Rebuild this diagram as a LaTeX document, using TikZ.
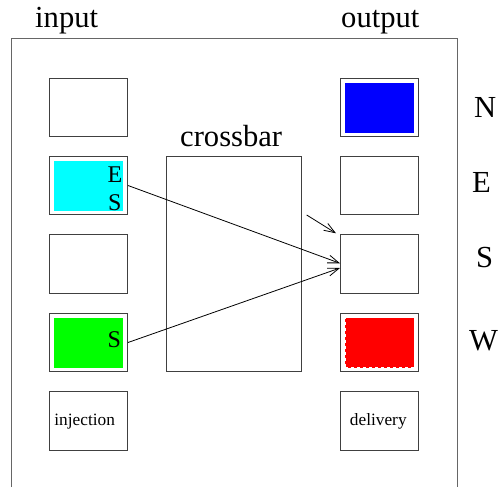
\documentclass[tikz,border=0pt]{standalone}
\usepackage{fontspec}
\setmainfont{Liberation Serif}
\usetikzlibrary{arrows.meta,calc}

\definecolor{bufE}{RGB}{0,255,255}
\definecolor{bufW}{RGB}{0,255,0}
\definecolor{outN}{RGB}{0,0,255}
\definecolor{outW}{RGB}{255,0,0}

\tikzset{
  lbl/.style={font=\fontsize{30.6}{36}\selectfont, inner sep=0},
  req/.style={font=\fontsize{24}{28}\selectfont, inner sep=0},
  tiny/.style={font=\fontsize{17.3}{20}\selectfont, inner sep=0},
  cell/.style={draw=black!75, line width=1pt, minimum width=78pt,
               minimum height=58.5pt, inner sep=0},
  ink/.style={minimum width=69pt, minimum height=50pt, inner sep=0, fill=#1},
  frame/.style={draw=black!60, line width=1pt},
  link/.style={-{Straight Barb[length=11pt,width=8pt]}, line width=0.8pt}
}

\begin{document}
\begin{tikzpicture}[x=1pt,y=-1pt]
\useasboundingbox (0,0) rectangle (500,487);

% router frame, open at the bottom
\draw[frame] (11,487) -- (11,39) -- (457,39) -- (457,487);

% headings
\node[lbl, anchor=base west] (tin)  at (35,28)   {input};
\node[lbl, anchor=base west] (tout) at (341,28)  {output};
\node[lbl, anchor=base west] (tx)   at (180,146) {crossbar};

% port names
\node[lbl, anchor=base west] (pN) at (474,117) {N};
\node[lbl, anchor=base west] (pE) at (472,192) {E};
\node[lbl, anchor=base west] (pS) at (476,267) {S};
\node[lbl, anchor=base west] (pW) at (469,350) {W};

% crossbar
\node[cell, minimum width=135.5pt, minimum height=215.5pt] (xbar) at (234,264) {};

% input buffers
\node[ink=bufE] (fE) at (88.5,185.5) {};
\node[ink=bufW] (fW) at (88.5,342.5) {};
\node[cell] (iN) at (88.5,107.5) {};
\node[cell] (iE) at (88.5,185.5) {};
\node[cell] (iS) at (88.5,264) {};
\node[cell] (iW) at (88.5,342.5) {};
\node[cell] (iL) at (88.5,421) {};

% output buffers
\node[ink=outN] (gN) at (379.5,107.5) {};
\node[ink=outW, draw=white, dashed, line width=0.8pt] (gW) at (379.5,342.5) {};
\node[cell] (oN) at (379.5,107.5) {};
\node[cell] (oE) at (379.5,185.5) {};
\node[cell] (oS) at (379.5,264) {};
\node[cell] (oW) at (379.5,342.5) {};
\node[cell] (oL) at (379.5,421) {};

% requested directions
\node[req, anchor=base west] (rE1) at (107.5,182)   {E};
\node[req, anchor=base west] (rS1) at (108,210.5)   {S};
\node[req, anchor=base west] (rS2) at (107.5,347)   {S};

% local ports
\node[tiny, anchor=base] (tinj) at (84.7,425) {injection};
\node[tiny, anchor=base] (tdel) at (378.3,425) {delivery};

% crossbar connections
\draw[link] (iE.east) -- ($(oS.west)+(0,-0.7)$);
\draw[link] (iW.east) -- ($(oS.west)+(0,4)$);
\coordinate (q0) at (306.7,215);
\coordinate (q1) at (336,233.3);
\draw[link] (q0) -- (q1);
\end{tikzpicture}
\end{document}
